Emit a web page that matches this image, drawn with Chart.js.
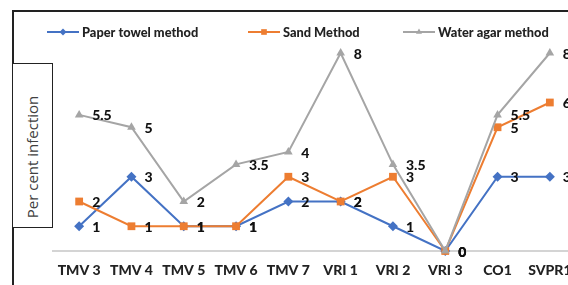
<!DOCTYPE html>
<html>
<head>
<meta charset="utf-8">
<script src="https://cdn.jsdelivr.net/npm/chart.js@4.4.1/dist/chart.umd.min.js"></script>
<style>
  html, body { margin: 0; padding: 0; background: #fff; }
  body { width: 568px; height: 285px; overflow: hidden; position: relative; }
  #frame { position: absolute; left: 12px; top: 10px; width: 620px; height: 300px;
           border-top: 2px solid #222; border-left: 2px solid #222; }
  #ytitle { position: absolute; left: 12px; top: 63px; width: 39px; height: 163px;
            border: 1.5px solid #222; background: #fff; }
  #ytitle span { position: absolute; left: 48%; top: 57%; white-space: nowrap;
                 transform: translate(-50%, -50%) rotate(-90deg);
                 font: 15px "Open Sans", sans-serif; color: #404040; }
  #chart { position: absolute; left: 0; top: 0; }
</style>
</head>
<body>
<div id="frame"></div>
<canvas id="chart" width="600" height="285"></canvas>
<div id="ytitle"><span>Per cent infection</span></div>
<script>
  const categories = ["TMV 3", "TMV 4", "TMV 5", "TMV 6", "TMV 7", "VRI 1", "VRI 2", "VRI 3", "CO1", "SVPR1"];
  const paperTowel = [1, 3, 1, 1, 2, 2, 1, 0, 3, 3];
  const sandMethod = [2, 1, 1, 1, 3, 2, 3, 0, 5, 6];
  const waterAgar  = [5.5, 5, 2, 3.5, 4, 8, 3.5, 0, 5.5, 8];
  const seriesNames = ["Paper towel method", "Sand Method", "Water agar method"];
  const seriesColors = ["#4472C4", "#ED7D31", "#A5A5A5"];
  const yMin = 0, yMax = 8;

  const markers = [
    { style: "rectRot", r: 5 },
    { style: "rect", r: 5.5 },
    { style: "triangle", r: 5 }
  ];
  const boldFont = "900 12.8px Lato";

  // value labels to the right of each point
  const pointLabels = {
    id: "pointLabels",
    afterDatasetsDraw(chart) {
      const ctx = chart.ctx;
      ctx.save();
      ctx.font = "900 14px Lato";
      ctx.fillStyle = "#111";
      ctx.textBaseline = "middle";
      chart.data.datasets.forEach((ds, i) => {
        chart.getDatasetMeta(i).data.forEach((pt, j) => {
          ctx.fillText(String(ds.data[j]), pt.x + 13, pt.y + 1);
        });
      });
      ctx.restore();
    }
  };

  // Excel style legend: line + marker + bold text
  const lineLegend = {
    id: "lineLegend",
    afterDraw(chart) {
      const ctx = chart.ctx;
      const starts = [47, 248, 403];
      const y = 32;
      ctx.save();
      ctx.font = boldFont;
      ctx.textBaseline = "middle";
      seriesNames.forEach((name, i) => {
        const x = starts[i];
        ctx.strokeStyle = seriesColors[i];
        ctx.lineWidth = 2;
        ctx.beginPath();
        ctx.moveTo(x, y);
        ctx.lineTo(x + 32, y);
        ctx.stroke();
        ctx.fillStyle = seriesColors[i];
        Chart.helpers.drawPoint(ctx, {
          pointStyle: markers[i].style, radius: markers[i].r - 1.5, borderWidth: 0
        }, x + 16, y);
        ctx.fillStyle = "#222";
        ctx.fillText(name, x + 35, y + 1);
      });
      ctx.restore();
    }
  };

  const allSeries = [paperTowel, sandMethod, waterAgar];
  const datasets = allSeries.map((vals, i) => ({
    label: seriesNames[i],
    data: vals,
    borderColor: seriesColors[i],
    backgroundColor: seriesColors[i],
    borderWidth: 2,
    pointStyle: markers[i].style,
    pointRadius: markers[i].r,
    pointBorderWidth: 0,
    tension: 0,
    clip: false,
    order: 2 - i
  }));

  new Chart(document.getElementById("chart"), {
    type: "line",
    data: { labels: categories, datasets: datasets },
    options: {
      responsive: false,
      animation: false,
      layout: { padding: { left: 53, right: 24, top: 53, bottom: 0 } },
      plugins: { legend: { display: false }, tooltip: { enabled: false } },
      scales: {
        y: { display: false, min: yMin, max: yMax },
        x: {
          offset: true,
          grid: { display: false, drawTicks: false },
          border: { display: true, color: "#d4d4d4", width: 2 },
          ticks: { font: { family: "Lato", size: 14, weight: 900 }, color: "#222", padding: 11, maxRotation: 0, autoSkip: false },
          afterFit(scale) { scale.height = 34; }
        }
      }
    },
    plugins: [pointLabels, lineLegend]
  });
</script>
</body>
</html>
